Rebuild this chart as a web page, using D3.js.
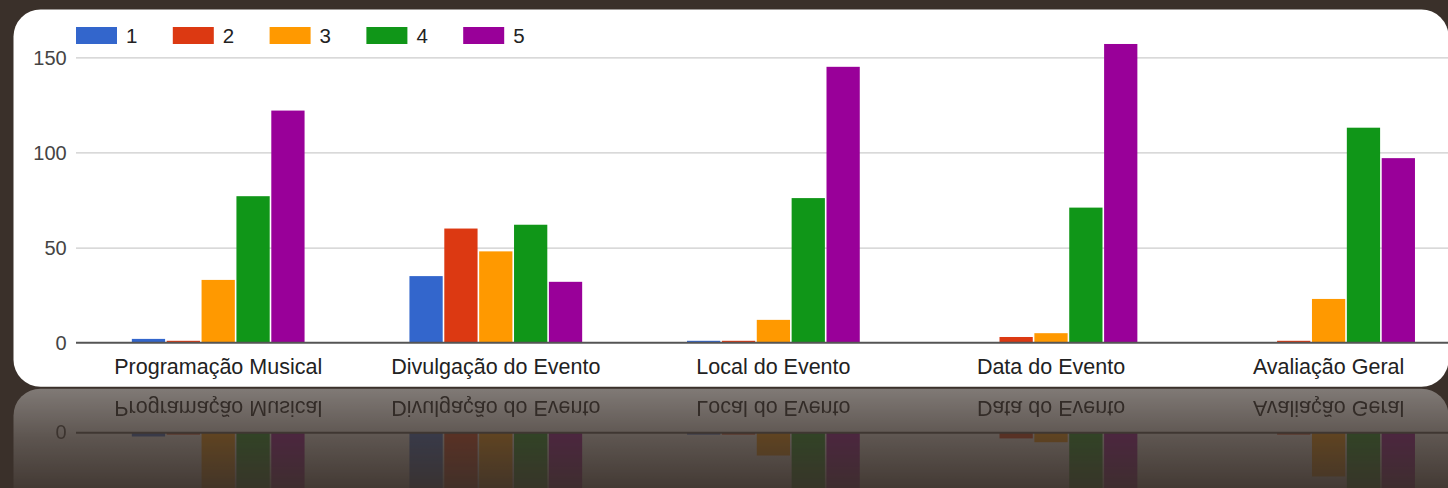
<!DOCTYPE html>
<html><head><meta charset="utf-8">
<script src="https://cdn.jsdelivr.net/npm/d3@7"></script>
<style>html,body{margin:0;padding:0;background:#3a302a;overflow:hidden}</style>
</head><body><svg id="c" width="1448" height="488"></svg>
<script>
const categories = ["Programação Musical","Divulgação do Evento","Local do Evento","Data do Evento","Avaliação Geral"];
const seriesNames = ["1","2","3","4","5"];
const series1 = [2,35,1,0,0];
const series2 = [1,60,1,3,1];
const series3 = [33,48,12,5,23];
const series4 = [77,62,76,71,113];
const series5 = [122,32,145,157,97];
const yTicks = [0,50,100,150];
const colors = ["#3366cc","#dc3912","#ff9900","#109618","#990099"];

const allSeries = [series1,series2,series3,series4,series5];
const FONT = "'Liberation Sans', Arial, sans-serif";
const svg = d3.select("#c");
const W = 1448, H = 488;
const card = {x:13.5, y:9.5, w:1435, h:377.2, r:27};
const plotLeft = 76;

svg.append("rect").attr("width",W).attr("height",H).attr("fill","#3a302a");

const defs = svg.append("defs");
const grad = defs.append("linearGradient").attr("id","rg")
  .attr("gradientUnits","userSpaceOnUse").attr("x1",0).attr("y1",388).attr("x2",0).attr("y2",488);
grad.append("stop").attr("offset",0).attr("stop-color","#fff").attr("stop-opacity",0.36);
grad.append("stop").attr("offset",0.5).attr("stop-color","#fff").attr("stop-opacity",0.18);
grad.append("stop").attr("offset",1).attr("stop-color","#fff").attr("stop-opacity",0.05);
const mask = defs.append("mask").attr("id","rm").attr("maskUnits","userSpaceOnUse")
  .attr("x",0).attr("y",380).attr("width",W).attr("height",120);
mask.append("rect").attr("x",0).attr("y",380).attr("width",W).attr("height",120).attr("fill","url(#rg)");

const g = svg.append("g").attr("id","card");
g.append("rect").attr("x",card.x).attr("y",card.y).attr("width",card.w).attr("height",card.h)
  .attr("rx",card.r).attr("fill","#ffffff");

const y = d3.scaleLinear().domain([0,150]).range([342.7,57.3]);
const x0 = d3.scaleBand().domain(categories).range([80.2,1468.2]).paddingInner(0.372).paddingOuter(0.186);
const x1 = d3.scaleBand().domain(seriesNames).range([0,x0.bandwidth()]);
const gap = 1.6;

// y axis with gridlines
const yAxis = g.append("g").attr("transform",`translate(${plotLeft},0)`)
  .call(d3.axisLeft(y).tickValues(yTicks).tickSize(-(card.x+card.w-plotLeft)).tickPadding(9.3));
yAxis.select(".domain").remove();
yAxis.selectAll(".tick line").attr("stroke",d=>d===0?"none":"#cccccc").attr("stroke-width",1.3);
yAxis.selectAll(".tick text").attr("font-family",FONT).attr("font-size",20).attr("fill","#444").attr("dy","0.36em");

// bars
const groups = g.append("g").selectAll("g").data(categories).join("g")
  .attr("transform",c=>`translate(${x0(c)},0)`);
groups.selectAll("rect").data((c,ci)=>seriesNames.map((s,si)=>({s,si,v:allSeries[si][ci]})))
  .join("rect")
  .attr("x",d=>x1(d.s))
  .attr("width",x1.bandwidth()-gap)
  .attr("y",d=>y(d.v))
  .attr("height",d=>y(0)-y(d.v))
  .attr("fill",d=>colors[d.si]);

// baseline
g.append("line").attr("x1",plotLeft).attr("x2",card.x+card.w).attr("y1",y(0)).attr("y2",y(0))
  .attr("stroke","#555").attr("stroke-width",2);

// x axis labels
const xAxis = g.append("g").attr("transform",`translate(${-gap/2},${y(0)})`)
  .call(d3.axisBottom(x0).tickSize(0).tickPadding(16));
xAxis.select(".domain").remove();
xAxis.selectAll(".tick text").attr("font-family",FONT).attr("font-size",21.5).attr("fill","#222");

// legend
const leg = g.append("g").selectAll("g").data(seriesNames).join("g")
  .attr("transform",(s,i)=>`translate(${76+i*96.8},27)`);
leg.append("rect").attr("width",41).attr("height",17).attr("fill",(s,i)=>colors[i]);
leg.append("text").attr("x",50).attr("y",8.5).attr("dy","0.36em").text(s=>s)
  .attr("font-family",FONT).attr("font-size",20.5).attr("fill","#222");

// reflection
svg.append("g").attr("mask","url(#rm)")
  .append("use").attr("href","#card").attr("transform","translate(0,775.4) scale(1,-1)");
</script></body></html>
